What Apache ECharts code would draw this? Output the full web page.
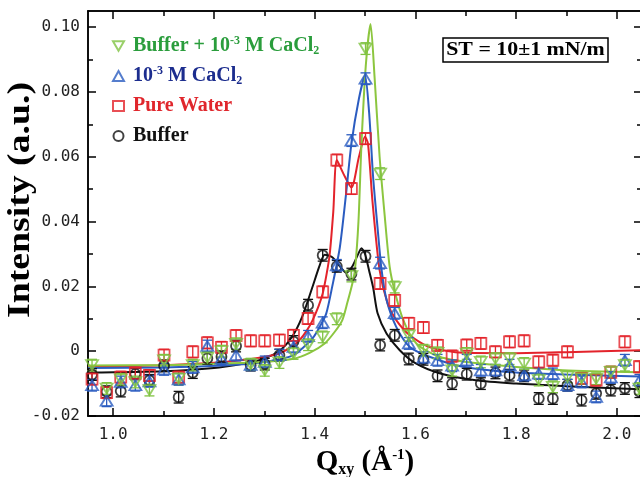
<!DOCTYPE html>
<html>
<head>
<meta charset="utf-8">
<title>GIXD Bragg peaks</title>
<script src="https://cdn.jsdelivr.net/npm/echarts@6.0.0/dist/echarts.min.js"></script>
<style>
  html, body { margin: 0; padding: 0; background: #fff; }
  #chart { width: 640px; height: 477px; }
</style>
</head>
<body>
<div id="chart"></div>
<script>
// Qxy positions of the measured points (1/Å)
const qxy = [0.958, 0.987, 1.015, 1.044, 1.072, 1.101, 1.130, 1.158, 1.187, 1.215,
  1.244, 1.273, 1.301, 1.330, 1.358, 1.387, 1.416, 1.444, 1.473, 1.501,
  1.530, 1.559, 1.587, 1.616, 1.644, 1.673, 1.702, 1.730, 1.759, 1.787,
  1.816, 1.845, 1.873, 1.902, 1.930, 1.959, 1.988, 2.016, 2.045];

// measured intensities (a.u.)
const buffer = [-0.0072, -0.0125, -0.0123, -0.0070, -0.0090, -0.0045, -0.0142, -0.0066, -0.0022, -0.0017,
  0.0016, -0.0043, -0.0040, -0.0012, 0.0030, 0.0142, 0.0296, 0.0262, 0.0238, 0.0293,
  0.0019, 0.0049, -0.0024, -0.0025, -0.0076, -0.0100, -0.0071, -0.0100, -0.0067, -0.0074,
  -0.0076, -0.0146, -0.0146, -0.0105, -0.0151, -0.0130, -0.0120, -0.0115, -0.0125];
const pureWater = [-0.0086, -0.0128, -0.0080, -0.0068, -0.0075, -0.0012, -0.0080, -0.0002, 0.0026, 0.0012,
  0.0048, 0.0032, 0.0032, 0.0034, 0.0049, 0.0101, 0.0183, 0.0590, 0.0502, 0.0656,
  0.0209, 0.0157, 0.0086, 0.0073, 0.0018, -0.0015, 0.0019, 0.0024, -0.0002, 0.0029,
  0.0032, -0.0033, -0.0028, -0.0002, -0.0084, -0.0089, -0.0065, 0.0029, -0.0048];
const cacl2 = [-0.0105, -0.0153, -0.0095, -0.0105, -0.0093, -0.0056, -0.0087, -0.0050, 0.0016, -0.0023,
  -0.0012, -0.0042, -0.0033, -0.0012, 0.0013, 0.0046, 0.0088, 0.0265, 0.0650, 0.0841,
  0.0272, 0.0117, 0.0024, -0.0020, -0.0028, -0.0045, -0.0028, -0.0059, -0.0059, -0.0043,
  -0.0074, -0.0069, -0.0070, -0.0105, -0.0095, -0.0141, -0.0081, -0.0028, -0.0090];
const bufferCacl2 = [-0.0043, -0.0115, -0.0087, -0.0095, -0.0120, -0.0028, -0.0085, -0.0043, -0.0020, 0.0000,
  0.0023, -0.0040, -0.0059, -0.0035, -0.0007, 0.0020, 0.0044, 0.0100, 0.0232, 0.0934,
  0.0548, 0.0198, 0.0049, 0.0003, -0.0005, -0.0059, -0.0007, -0.0033, -0.0023, -0.0023,
  -0.0038, -0.0089, -0.0110, -0.0079, -0.0084, -0.0085, -0.0064, -0.0043, -0.0115];
const errBar = 0.0018;

// fitted curves, [Qxy, intensity]
const fitBuffer = [[0.95, -0.0066], [1.10, -0.0062], [1.20, -0.0052], [1.26, -0.0038], [1.29, -0.0028],
  [1.31, -0.0016], [1.33, 0.0000], [1.355, 0.0044], [1.375, 0.0105], [1.395, 0.0195], [1.41, 0.0265],
  [1.42, 0.0298], [1.435, 0.0290], [1.45, 0.0262], [1.463, 0.0242], [1.475, 0.0262], [1.485, 0.0295],
  [1.493, 0.0318], [1.50, 0.0300], [1.508, 0.0250], [1.516, 0.0198], [1.525, 0.0117], [1.543, 0.0054],
  [1.569, 0.0003], [1.60, -0.0037], [1.648, -0.0068], [1.72, -0.0090], [1.80, -0.0100], [1.90, -0.0108],
  [2.05, -0.0118]];
const fitWater = [[0.95, -0.0048], [1.10, -0.0043], [1.22, -0.0033], [1.29, -0.0020], [1.33, -0.0007],
  [1.355, 0.0015], [1.37, 0.0034], [1.385, 0.0065], [1.396, 0.0096], [1.408, 0.0140], [1.416, 0.0178],
  [1.424, 0.0240], [1.43, 0.0300], [1.437, 0.0430], [1.444, 0.0590], [1.458, 0.0545], [1.473, 0.0505],
  [1.488, 0.0600], [1.500, 0.0662], [1.506, 0.0640], [1.515, 0.0460], [1.529, 0.0250], [1.545, 0.0147],
  [1.562, 0.0096], [1.589, 0.0049], [1.628, 0.0013], [1.694, -0.0005], [1.80, -0.0006], [1.90, -0.0003],
  [2.05, 0.0003]];
const fitCacl2 = [[0.95, -0.0052], [1.10, -0.0050], [1.22, -0.0044], [1.29, -0.0036], [1.33, -0.0025],
  [1.358, -0.0012], [1.38, 0.0015], [1.396, 0.0040], [1.41, 0.0075], [1.423, 0.0116], [1.435, 0.0200],
  [1.45, 0.0320], [1.462, 0.0480], [1.473, 0.0640], [1.488, 0.0780], [1.500, 0.0850], [1.508, 0.0740],
  [1.516, 0.0540], [1.525, 0.0380], [1.533, 0.0250], [1.543, 0.0157], [1.562, 0.0075], [1.589, 0.0013],
  [1.628, -0.0017], [1.694, -0.0048], [1.80, -0.0066], [1.90, -0.0072], [2.05, -0.0078]];
const fitBufferCacl2 = [[0.95, -0.0044], [1.10, -0.0043], [1.22, -0.0038], [1.29, -0.0034], [1.358, -0.0023],
  [1.39, -0.0005], [1.42, 0.0024], [1.44, 0.0060], [1.455, 0.0096], [1.465, 0.0150], [1.475, 0.0210],
  [1.48, 0.0250], [1.487, 0.0400], [1.493, 0.0640], [1.5015, 0.0880], [1.511, 0.1010], [1.519, 0.0846],
  [1.529, 0.0600], [1.539, 0.0420], [1.549, 0.0260], [1.559, 0.0185], [1.576, 0.0096], [1.602, 0.0024],
  [1.648, -0.0017], [1.728, -0.0038], [1.893, -0.0059], [2.05, -0.0065]];

// ticks
const xMajor = [1.0, 1.2, 1.4, 1.6, 1.8, 2.0];
const xMinor = [1.1, 1.3, 1.5, 1.7, 1.9];
const yMajor = [-0.02, 0, 0.02, 0.04, 0.06, 0.08, 0.10];
const yMinor = [-0.01, 0.01, 0.03, 0.05, 0.07, 0.09];

const serif = '"Liberation Serif", "Times New Roman", serif';
const mono = '"DejaVu Sans Mono", monospace';

const pairs = (vals) => qxy.map((q, i) => [q, vals[i]]);

function xAxisDef(position, ticks, len, withLabels) {
  const axis = {
    type: 'value', position: position, min: 0.95, max: 2.05,
    axisLine: { show: true, onZero: false, lineStyle: { color: '#000', width: 1.5 } },
    axisTick: { show: true, inside: true, length: len, customValues: ticks,
      lineStyle: { color: '#000', width: 1.5 } },
    axisLabel: { show: false },
    splitLine: { show: false }
  };
  if (withLabels) {
    axis.axisLabel = { show: true, customValues: ticks, margin: 11,
      formatter: (v) => v.toFixed(1),
      fontFamily: mono, fontSize: 16, color: '#222' };
    axis.name = 'Q{sub|xy} (Å{sup|-1})';
    axis.nameLocation = 'middle';
    axis.nameGap = 28;
    axis.nameTextStyle = {
      fontFamily: serif, fontWeight: 'bold', fontSize: 29, lineHeight: 30, color: '#000',
      rich: {
        sub: { fontFamily: serif, fontWeight: 'bold', fontSize: 16, lineHeight: 14, verticalAlign: 'bottom' },
        sup: { fontFamily: serif, fontWeight: 'bold', fontSize: 15, lineHeight: 14, verticalAlign: 'top' }
      }
    };
  }
  return axis;
}

function yAxisDef(position, ticks, len, withLabels) {
  const axis = {
    type: 'value', position: position, min: -0.02, max: 0.105,
    axisLine: { show: true, onZero: false, lineStyle: { color: '#000', width: 1.5 } },
    axisTick: { show: true, inside: true, length: len, customValues: ticks,
      lineStyle: { color: '#000', width: 1.5 } },
    axisLabel: { show: false },
    splitLine: { show: false }
  };
  if (withLabels) {
    axis.axisLabel = { show: true, customValues: ticks, margin: 8,
      formatter: (v) => (Math.abs(v) < 1e-9 ? '0' : v.toFixed(2)),
      fontFamily: mono, fontSize: 16, color: '#222' };
  }
  return axis;
}

function fitLine(data, color) {
  return {
    type: 'line', data: data, showSymbol: false, symbol: 'none', smooth: 0.25,
    lineStyle: { color: color, width: 2 }, z: 2, silent: true
  };
}

function points(name, vals, symbol, size, color) {
  return {
    type: 'scatter', name: name, data: pairs(vals), symbol: symbol, symbolSize: size,
    itemStyle: { color: 'rgba(255,255,255,0)', borderColor: color, borderWidth: 1.8 },
    z: 4
  };
}

function errorBars(vals, color) {
  return {
    type: 'custom', data: pairs(vals), z: 3, silent: true,
    renderItem: (params, api) => {
      const q = api.value(0), v = api.value(1);
      const hi = api.coord([q, v + errBar]);
      const lo = api.coord([q, v - errBar]);
      const w = 5;
      const style = { stroke: color, lineWidth: 1.3 };
      return {
        type: 'group', children: [
          { type: 'line', shape: { x1: hi[0], y1: hi[1], x2: lo[0], y2: lo[1] }, style: style },
          { type: 'line', shape: { x1: hi[0] - w, y1: hi[1], x2: hi[0] + w, y2: hi[1] }, style: style },
          { type: 'line', shape: { x1: lo[0] - w, y1: lo[1], x2: lo[0] + w, y2: lo[1] }, style: style }
        ]
      };
    }
  };
}

const green = '#80c342', blue = '#2b5cc0', red = '#e3232b', black = '#111111';
const downTri = 'path://M0,0L10,0L5,8.66Z';

const legendText = {
  bufCa: 'Buffer + 10{sup|-3} M CaCl{sub|2}',
  ca: '10{sup|-3} M CaCl{sub|2}',
  water: 'Pure Water',
  buffer: 'Buffer'
};

const chart = echarts.init(document.getElementById('chart'));

chart.setOption({
  animation: false,
  backgroundColor: '#fff',
  grid: { left: 88, top: 11, width: 554, height: 405, outerBoundsMode: 'none', containLabel: false },
  xAxis: [
    xAxisDef('bottom', xMajor, 8, true),
    xAxisDef('bottom', xMinor, 5, false),
    xAxisDef('top', xMajor, 8, false),
    xAxisDef('top', xMinor, 5, false)
  ],
  yAxis: [
    yAxisDef('left', yMajor, 8, true),
    yAxisDef('left', yMinor, 5, false),
    yAxisDef('right', yMajor, 8, false),
    yAxisDef('right', yMinor, 5, false)
  ],
  legend: {
    orient: 'vertical', left: 107, top: 30, itemWidth: 11, itemHeight: 10, itemGap: 8,
    selectedMode: false,
    data: [
      { name: 'bufCa', textStyle: { color: '#2a9d3c' } },
      { name: 'ca', textStyle: { color: '#1c2d8e' } },
      { name: 'water', textStyle: { color: '#e0262c' } },
      { name: 'buffer', textStyle: { color: '#111' } }
    ],
    formatter: (name) => legendText[name],
    textStyle: {
      fontFamily: serif, fontWeight: 'bold', fontSize: 20, lineHeight: 22, padding: [0, 0, 0, 4],
      rich: {
        sup: { fontFamily: serif, fontWeight: 'bold', fontSize: 12, lineHeight: 12, verticalAlign: 'top' },
        sub: { fontFamily: serif, fontWeight: 'bold', fontSize: 12, lineHeight: 12, verticalAlign: 'bottom' }
      }
    }
  },
  graphic: [
    {
      type: 'text', x: 21, y: 200, rotation: Math.PI / 2, scaleX: 1.18,
      style: { text: 'Intensity (a.u.)', font: 'bold 32px ' + serif, fill: '#000',
        align: 'center', verticalAlign: 'middle', textAlign: 'center', textVerticalAlign: 'middle' }
    },
    {
      type: 'group', x: 443, y: 38,
      children: [
        { type: 'rect', shape: { x: 0, y: 0, width: 165, height: 24 },
          style: { fill: '#fff', stroke: '#000', lineWidth: 1.5 } },
        { type: 'text', x: 82.5, y: 12.5, scaleX: 1.15,
          style: { text: 'ST = 10±1 mN/m', font: 'bold 19px ' + serif, fill: '#000',
            align: 'center', verticalAlign: 'middle', textAlign: 'center', textVerticalAlign: 'middle' } }
      ]
    }
  ],
  series: [
    fitLine(fitBuffer, black),
    fitLine(fitWater, red),
    fitLine(fitCacl2, blue),
    fitLine(fitBufferCacl2, '#8cc63f'),
    errorBars(buffer, black),
    points('buffer', buffer, 'circle', 10, black),
    errorBars(pureWater, red),
    points('water', pureWater, 'rect', 11, red),
    errorBars(cacl2, blue),
    points('ca', cacl2, 'triangle', [12, 10], blue),
    errorBars(bufferCacl2, green),
    points('bufCa', bufferCacl2, downTri, [12, 10], green)
  ]
});

window.addEventListener('resize', () => chart.resize());
</script>
</body>
</html>
